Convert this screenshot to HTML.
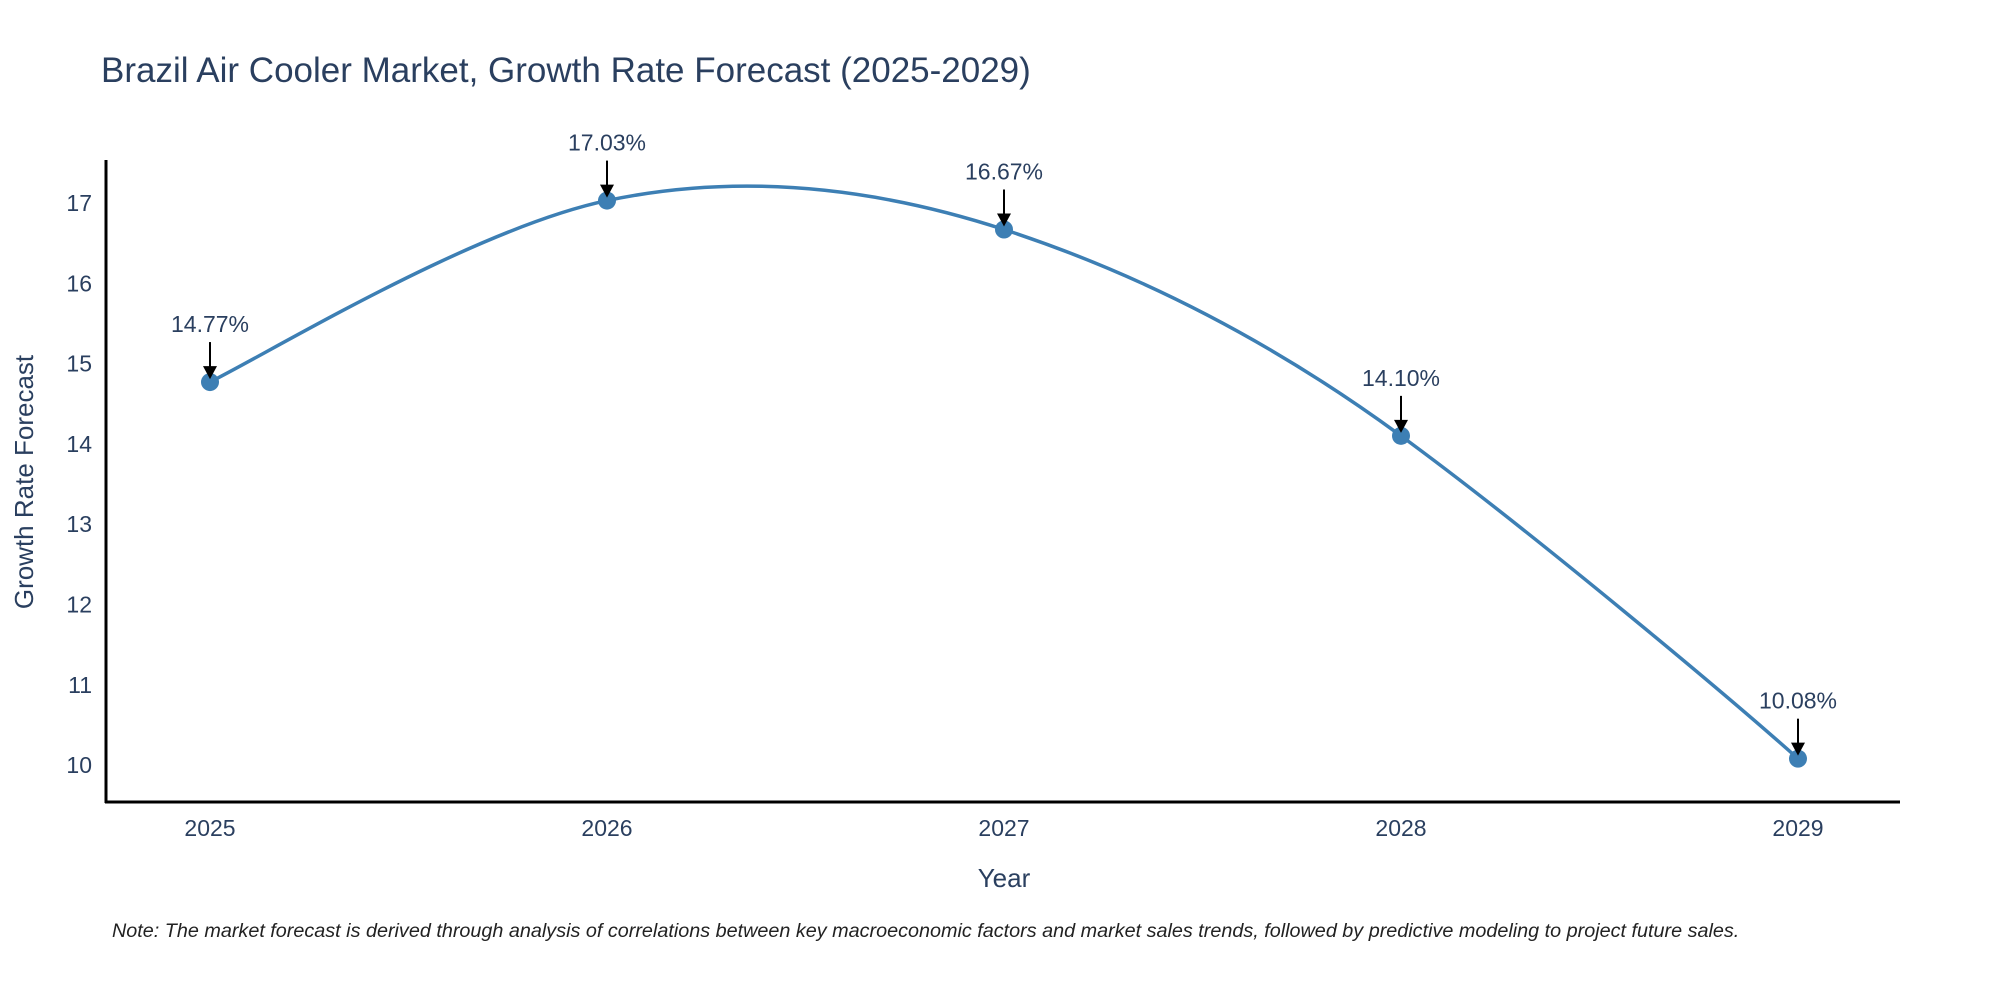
<!DOCTYPE html>
<html><head><meta charset="utf-8">
<style>
body{margin:0;background:#fff;}
svg text{font-family:"Liberation Sans",sans-serif;}
</style></head>
<body>
<svg id="chart" width="2000" height="1000" xmlns="http://www.w3.org/2000/svg">
<text x="101" y="82" font-size="35" fill="#2a3f5f">Brazil Air Cooler Market, Growth Rate Forecast (2025-2029)</text>
<g id="yticks"></g>
<g id="xticks"></g>
<line x1="106" y1="160" x2="106" y2="803" stroke="#000" stroke-width="3"/>
<line x1="105" y1="802" x2="1900" y2="802" stroke="#000" stroke-width="3"/>
<path id="curve" fill="none" stroke="#3d7fb4" stroke-width="3.5"/>
<g id="points"></g>
<g id="annots"></g>
<text transform="translate(33,482) rotate(-90)" text-anchor="middle" font-size="26" fill="#2a3f5f">Growth Rate Forecast</text>
<text x="1004" y="887" text-anchor="middle" font-size="26" fill="#2a3f5f">Year</text>
<text x="112" y="937" font-size="19.8" font-style="italic" fill="#222">Note: The market forecast is derived through analysis of correlations between key macroeconomic factors and market sales trends, followed by predictive modeling to project future sales.</text>
</svg>
<script>
const years=["2025","2026","2027","2028","2029"];
const values=[14.77,17.03,16.67,14.10,10.08];
const labels=["14.77%","17.03%","16.67%","14.10%","10.08%"];
const yTicks=[10,11,12,13,14,15,16,17];
const NS="http://www.w3.org/2000/svg";
function xs(i){return 210+i*397;}
function ys(v){return 203+(17-v)*80.3;}
function mk(tag,attrs,parent){const e=document.createElementNS(NS,tag);for(const k in attrs)e.setAttribute(k,attrs[k]);parent.appendChild(e);return e;}
const yt=document.getElementById('yticks');
yTicks.forEach(t=>{const e=mk('text',{x:92,y:ys(t)+8,'text-anchor':'end','font-size':23,fill:'#2a3f5f'},yt);


e.textContent=t;});
const xt=document.getElementById('xticks');
years.forEach((y,i)=>{const e=mk('text',{x:xs(i),y:836,'text-anchor':'middle','font-size':23,fill:'#2a3f5f'},xt);


e.textContent=y;});
const P=values.map((v,i)=>[xs(i),ys(v)]);
let d=`M${P[0][0]},${P[0][1]}`;const s=0.5;
for(let i=0;i<P.length-1;i++){const p0=P[Math.max(i-1,0)],p1=P[i],p2=P[i+1],p3=P[Math.min(i+2,P.length-1)];
const c1=[p1[0]+(p2[0]-p0[0])*s/3,p1[1]+(p2[1]-p0[1])*s/3*1.1];
const c2=[p2[0]-(p3[0]-p1[0])*s/3,p2[1]-(p3[1]-p1[1])*s/3*1.1];
d+=` C${c1[0]},${c1[1]} ${c2[0]},${c2[1]} ${p2[0]},${p2[1]}`;}
document.getElementById('curve').setAttribute('d',d);
const pg=document.getElementById('points'),ag=document.getElementById('annots');
P.forEach((p,i)=>{const c=mk('circle',{cx:p[0],cy:p[1],r:9,fill:'#3d7fb4'},pg);


const l=mk('line',{x1:p[0],y1:p[1]-40,x2:p[0],y2:p[1]-12,stroke:'#000','stroke-width':2},ag);


const h=mk('polygon',{points:`${p[0]-7},${p[1]-16} ${p[0]+7},${p[1]-16} ${p[0]},${p[1]-3}`,fill:'#000'},ag);


const t=mk('text',{x:p[0],y:p[1]-50,'text-anchor':'middle','font-size':23,fill:'#2a3f5f'},ag);


t.textContent=labels[i];});
</script>
</body></html>
